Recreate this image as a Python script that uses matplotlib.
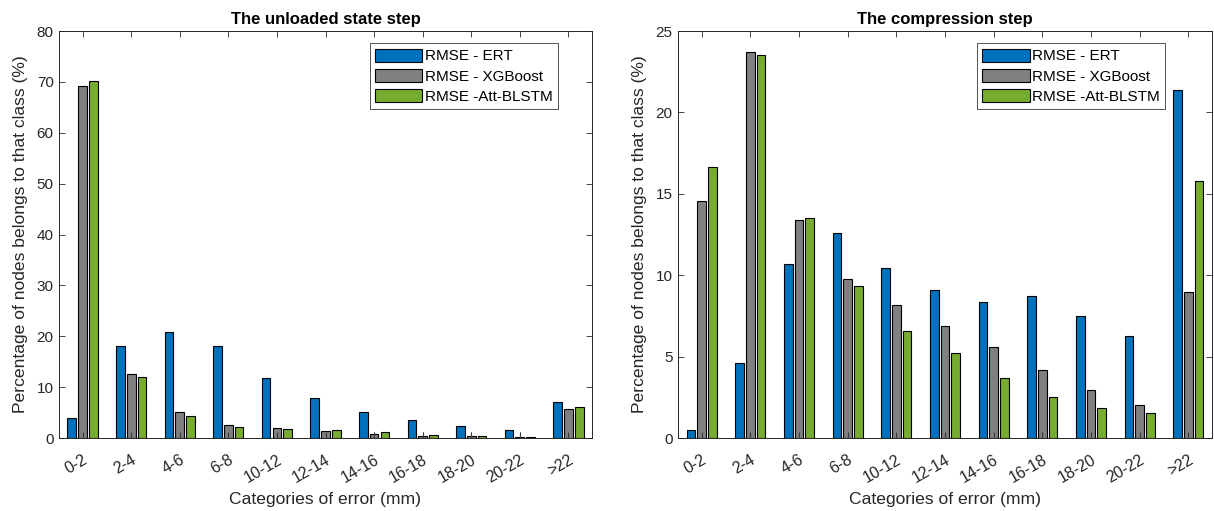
import numpy as np
import matplotlib
matplotlib.use("Agg")
import matplotlib.pyplot as plt

plt.rcParams['font.family'] = ['Liberation Sans', 'DejaVu Sans']

categories = ['0-2', '2-4', '4-6', '6-8', '10-12', '12-14', '14-16',
              '16-18', '18-20', '20-22', '>22']
series_names = ['RMSE - ERT', 'RMSE - XGBoost', 'RMSE -Att-BLSTM']
colors = ['#0072BD', '#808080', '#77AC30']

# The unloaded state step (% of nodes per error class)
unloaded_ert = [3.9, 18.0, 20.9, 18.0, 11.8, 7.9, 5.1, 3.5, 2.35, 1.5, 7.0]
unloaded_xgb = [69.2, 12.5, 5.1, 2.5, 2.0, 1.4, 0.8, 0.4, 0.3, 0.2, 5.75]
unloaded_lstm = [70.1, 11.9, 4.3, 2.2, 1.8, 1.5, 1.1, 0.5, 0.3, 0.2, 6.0]

# The compression step (% of nodes per error class)
comp_ert = [0.51, 4.59, 10.71, 12.61, 10.45, 9.08, 8.33, 8.71, 7.51, 6.24, 21.37]
comp_xgb = [14.53, 23.73, 13.37, 9.76, 8.16, 6.90, 5.57, 4.20, 2.92, 2.04, 8.98]
comp_lstm = [16.63, 23.55, 13.53, 9.35, 6.59, 5.20, 3.71, 2.49, 1.84, 1.53, 15.78]

W, H = 1214, 511
fig = plt.figure(figsize=(W / 100, H / 100), dpi=100)

axes_px = [(59.3, 591.7), (678.3, 1211.7)]
top_px, bot_px = 31.0, 438.0


def add_axes(x0, x1):
    return fig.add_axes([x0 / W, 1 - bot_px / H, (x1 - x0) / W, (bot_px - top_px) / H])


def draw_panel(ax, data, ymax, yticks, title, legend_right_px, ax_px):
    x = np.arange(1, len(categories) + 1)
    off = 0.2222
    bw = 0.178
    for i, (vals, col, name) in enumerate(zip(data, colors, series_names)):
        ax.bar(x + (i - 1) * off, vals, width=bw, color=col,
               edgecolor='black', linewidth=0.8, label=name, zorder=2)
    # small stem markers at the base of the middle series
    ax.plot(x, np.zeros_like(x, dtype=float), linestyle='none', marker='|',
            markersize=8.5, markeredgewidth=0.8, color='#3a3a3a', zorder=3,
            clip_on=True)
    ax.set_xlim(0.52, 11.48)
    ax.set_ylim(0, ymax)
    ax.set_yticks(yticks)
    ax.set_xticks(x)
    ax.set_xticklabels(categories, rotation=30, ha='right',
                       rotation_mode='anchor')
    ax.tick_params(axis='both', direction='in', length=4, width=0.6,
                   top=True, right=True, labelsize=11, colors='#262626',
                   pad=4)
    ax.tick_params(axis='x', labelsize=11.5, pad=10)
    for s in ax.spines.values():
        s.set_color('#262626')
        s.set_linewidth(0.7)
    ax.set_title(title, fontsize=12, fontweight='bold', color='black', pad=5)
    ax.set_xlabel('Categories of error (mm)', fontsize=12.6, color='#262626',
                  labelpad=5)
    ax.set_ylabel('Percentage of nodes belongs to that class (%)', fontsize=12.6,
                  color='#262626', labelpad=6)
    x0, x1 = ax_px
    leg = ax.legend(loc='upper right',
                    bbox_to_anchor=((legend_right_px - x0) / (x1 - x0),
                                    1 - (43.3 - top_px) / (bot_px - top_px)),
                    fontsize=11, frameon=True, fancybox=False,
                    handlelength=3.1, handleheight=0.95, handletextpad=0.15,
                    labelspacing=0.35, borderpad=0.35, borderaxespad=0,
                    edgecolor='#262626')
    leg.get_frame().set_linewidth(0.7)


ax1 = add_axes(*axes_px[0])
draw_panel(ax1, [unloaded_ert, unloaded_xgb, unloaded_lstm], 80,
           np.arange(0, 81, 10), 'The unloaded state step', 557.7, axes_px[0])

ax2 = add_axes(*axes_px[1])
draw_panel(ax2, [comp_ert, comp_xgb, comp_lstm], 25,
           np.arange(0, 26, 5), 'The compression step', 1165.0, axes_px[1])

fig.savefig('out.png', dpi=100)
